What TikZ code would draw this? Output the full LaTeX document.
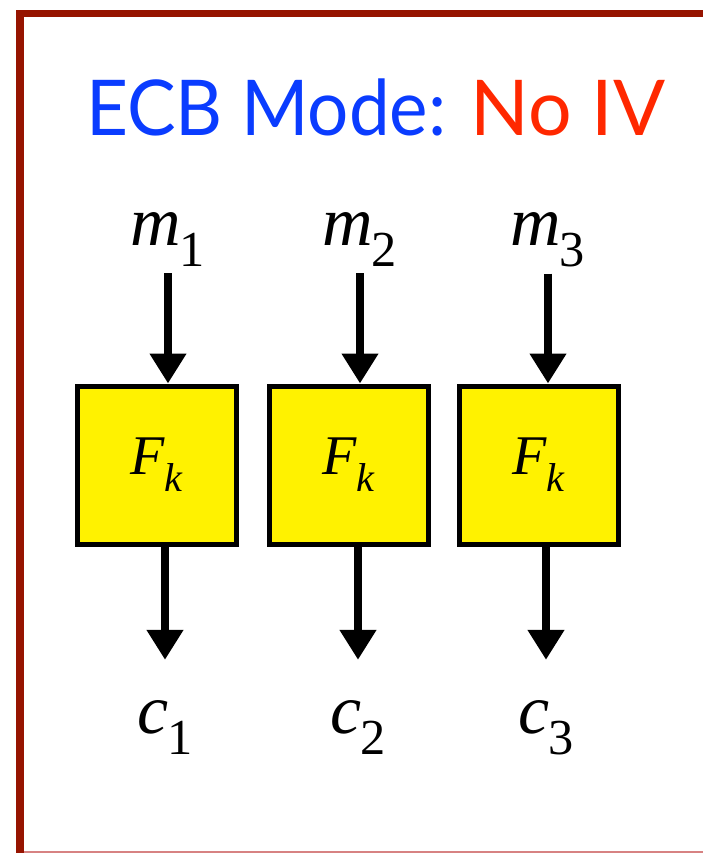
\documentclass[tikz,border=0pt]{standalone}
\usepackage{fontspec}
\usepackage{graphicx}
\setmainfont{Liberation Serif}
\newfontfamily\titlefont{Lato}
\usetikzlibrary{arrows.meta, positioning}
\definecolor{framered}{RGB}{150, 20, 0}
\definecolor{framepink}{RGB}{215, 130, 130}
\definecolor{titleblue}{RGB}{10, 60, 255}
\definecolor{titlered}{RGB}{255, 40, 0}
% italic symbol with a lowered subscript
\newcommand{\subsym}[2]{\textit{#1}\kern-0.02em\raisebox{-0.3em}{\scalebox{0.72}{#2}}}

\begin{document}
\begin{tikzpicture}[
    x=1pt, y=-1pt,
    node distance=26pt,
    fbox/.style={draw, line width=5pt, fill=yellow, minimum width=159pt, minimum height=158pt, inner sep=0pt, font=\fontsize{56}{60}\selectfont},
    msg/.style={inner sep=0pt, anchor=base, font=\fontsize{70}{80}\selectfont},
    heading/.style={inner sep=0pt, anchor=base west, font=\titlefont\fontsize{77}{90}\selectfont},
    arrow/.style={-{Triangle[width=35pt, length=30pt]}, line width=8pt}
]
    \useasboundingbox (0,0) rectangle (703,853);

    % Frame
    \fill[framered] (16,10) rectangle (24,853);
    \fill[framered] (16,10) rectangle (703,17);
    \draw[framepink, line width=1.5pt] (24,852) -- (703,852);

    % Title
    \node[heading, text=titleblue] (ecb) at (86,136) {\scalebox{0.945}[1]{ECB Mode:}};
    \node[heading, text=titlered, anchor=base west] (noiv) at ([xshift=24pt]ecb.base east) {No IV};

    % Block cipher boxes
    \node[fbox] (f1) at (157,465) {\subsym{F}{\textit{k}}};
    \node[fbox, right=28pt of f1] (f2) {\subsym{F}{\textit{k}}};
    \node[fbox, right=26pt of f2] (f3) {\subsym{F}{\textit{k}}};

    % Plaintext and ciphertext blocks
    \node[msg] (m1) at (168,245) {\subsym{m}{1}};
    \node[msg] (m2) at (360,245) {\subsym{m}{2}};
    \node[msg] (m3) at (548,245) {\subsym{m}{3}};
    \node[msg] (c1) at (165,733) {\subsym{c}{1}};
    \node[msg] (c2) at (358,733) {\subsym{c}{2}};
    \node[msg] (c3) at (546,733) {\subsym{c}{3}};

    % Connections
    \foreach \i in {1,2,3} {
        \draw[arrow, shorten <=7pt] (m\i.south) -- (m\i.south |- f\i.north);
        \draw[arrow, shorten >=40pt] (c\i |- f\i.south) -- (c\i.north);
    }

\end{tikzpicture}
\end{document}
